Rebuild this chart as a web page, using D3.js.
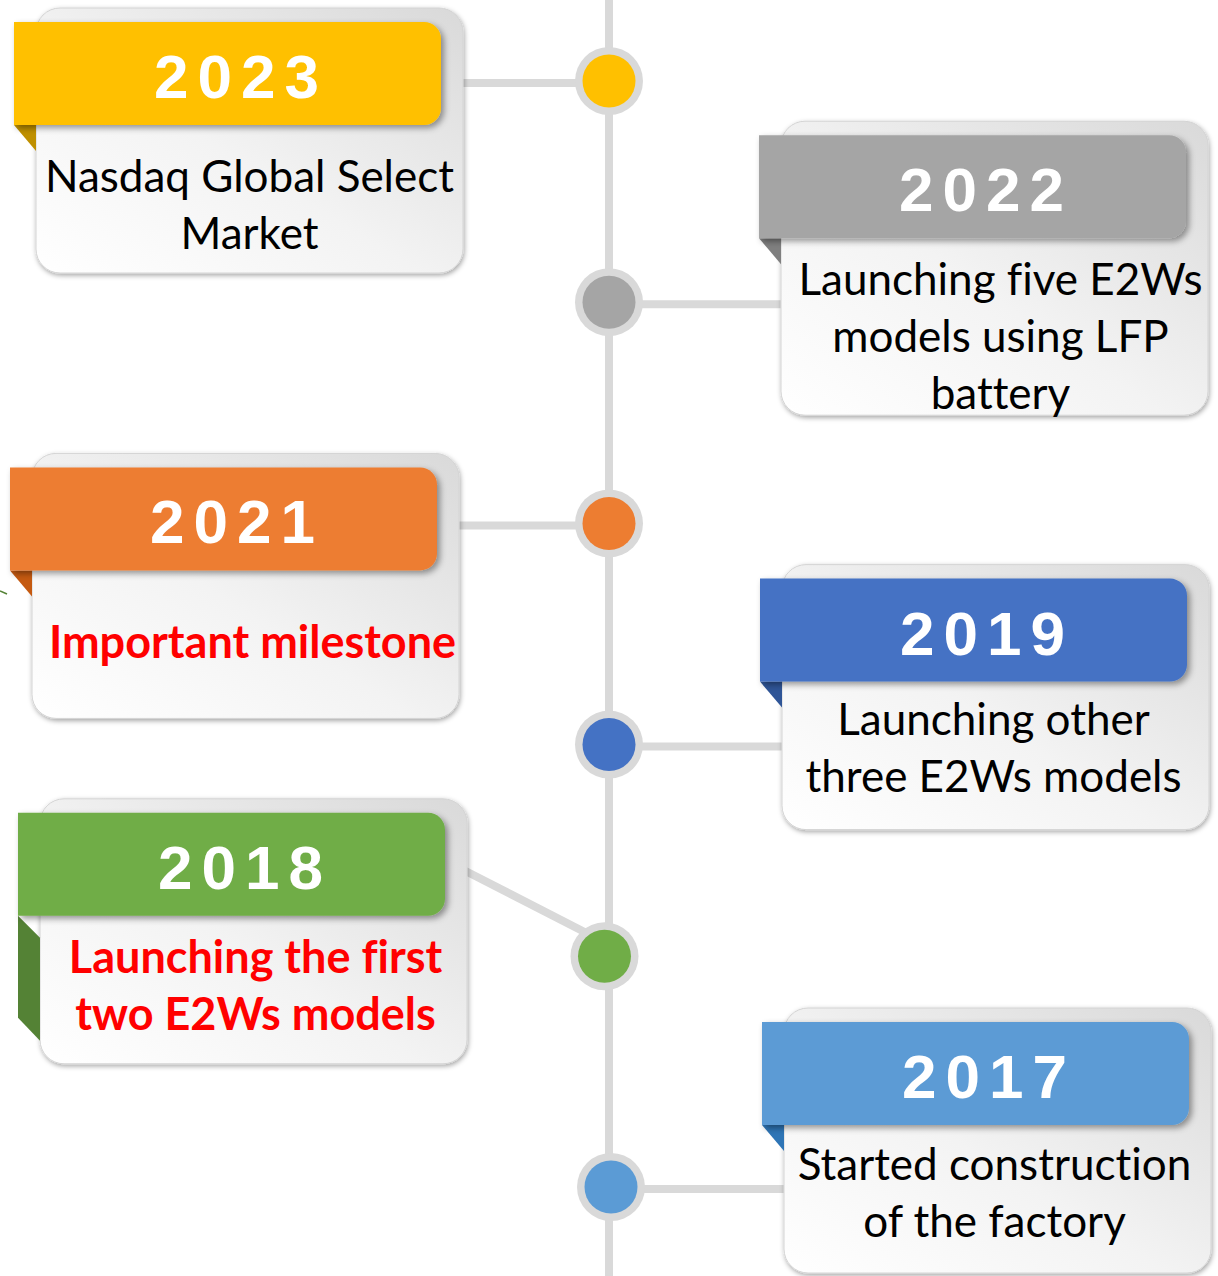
<!DOCTYPE html>
<html>
<head>
<meta charset="utf-8">
<script src="https://cdn.jsdelivr.net/npm/d3@7"></script>
<style>
  html, body { margin: 0; padding: 0; background: #ffffff; }
  svg { display: block; }
  text { font-variant-ligatures: none; }
</style>
</head>
<body>
<div id="chart"></div>
<script>
// ---------------- data ----------------
const years = ["2023", "2022", "2021", "2019", "2018", "2017"];
const sides = ["left", "right", "left", "right", "left", "right"];
const bannerColors = ["#FFC000", "#A5A5A5", "#ED7D31", "#4472C4", "#70AD47", "#5B9BD5"];
const foldColors = ["#BF9000", "#7F7F7F", "#C55A11", "#2F5597", "#548235", "#2E75B6"];
const descriptions = [
  ["Nasdaq Global Select", "Market"],
  ["Launching five E2Ws", "models using LFP", "battery"],
  ["Important milestone"],
  ["Launching other", "three E2Ws models"],
  ["Launching the first", "two E2Ws models"],
  ["Started construction", "of the factory"]
];
const highlighted = [false, false, true, false, true, false];

// ---------------- layout ----------------
const W = 1218, H = 1276;
const axisX = 609;
const dotNudgeX = [0, 0, 0, 0, -4.5, 2];
const dotNudgeY = [0, 0, 0, 0, -9.5, 0];
const cardTopOffset = [-73, -181, -70, -180, -157.5, -179];
const cardNudgeX = [0, -1, -4, 0, 4, 2];
const textFirstBaseline = [184, 174, 205, 170, 174, 172];
const textNudgeX = [0, 6, 7, -2, 2, -3];

const yScale = d3.scalePoint().domain(years).range([81, 1187]);

const items = years.map((yr, i) => {
  const cx = axisX + dotNudgeX[i];
  const cy = yScale(yr) + dotNudgeY[i];
  const cardW = 427;
  const lines = descriptions[i].length;
  const cardH = 265 + Math.max(0, lines - 2) * 29;
  const cardX = (sides[i] === "left" ? 36 : 782) + cardNudgeX[i];
  const cardY = cy + cardTopOffset[i];
  return {
    yr, i, cx, cy, cardX, cardY, cardW, cardH,
    bx: cardX - 22, by: cardY + 14, bw: 427, bh: 103,
    side: sides[i]
  };
});

const svg = d3.select("#chart").append("svg")
  .attr("width", W).attr("height", H).attr("viewBox", `0 0 ${W} ${H}`);

const defs = svg.append("defs");
const grad = defs.append("linearGradient").attr("id", "cardGrad")
  .attr("x1", "0%").attr("y1", "100%").attr("x2", "100%").attr("y2", "0%");
grad.append("stop").attr("offset", "0%").attr("stop-color", "#ffffff");
grad.append("stop").attr("offset", "45%").attr("stop-color", "#f3f3f3");
grad.append("stop").attr("offset", "100%").attr("stop-color", "#d9d9d9");

const cardShadow = defs.append("filter").attr("id", "cardShadow")
  .attr("x", "-10%").attr("y", "-10%").attr("width", "120%").attr("height", "120%");
cardShadow.append("feDropShadow").attr("dx", 1).attr("dy", 2)
  .attr("stdDeviation", 2.5).attr("flood-color", "#000").attr("flood-opacity", 0.35);

const bannerShadow = defs.append("filter").attr("id", "bannerShadow")
  .attr("x", "-10%").attr("y", "-10%").attr("width", "120%").attr("height", "130%");
bannerShadow.append("feDropShadow").attr("dx", 3).attr("dy", 3)
  .attr("stdDeviation", 3).attr("flood-color", "#000").attr("flood-opacity", 0.4);

const lineColor = "#D9D9D9";

// vertical timeline
svg.append("line")
  .attr("x1", axisX).attr("x2", axisX).attr("y1", 0).attr("y2", H)
  .attr("stroke", lineColor).attr("stroke-width", 8);

// connectors
svg.append("g").selectAll("line").data(items).join("line")
  .attr("x1", d => d.cx)
  .attr("y1", d => d.i === 4 ? d.cy - 14 : d.cy + 2)
  .attr("x2", d => d.side === "left" ? d.cardX + d.cardW - 2 : d.cardX + 2)
  .attr("y2", d => d.i === 4 ? d.cardY + 72 : d.cy + 2)
  .attr("stroke", lineColor).attr("stroke-width", 8);

// dots
const dots = svg.append("g").selectAll("g").data(items).join("g");
dots.append("circle").attr("cx", d => d.cx).attr("cy", d => d.cy).attr("r", 34).attr("fill", lineColor);
dots.append("circle").attr("cx", d => d.cx).attr("cy", d => d.cy).attr("r", 26.5).attr("fill", d => bannerColors[d.i]);

// tiny green stroke at left edge
svg.append("line").attr("x1", 0).attr("y1", 591).attr("x2", 7).attr("y2", 594)
  .attr("stroke", "#548235").attr("stroke-width", 1.5);

// cards
const cards = svg.append("g").selectAll("g").data(items).join("g");

cards.append("rect")
  .attr("x", d => d.cardX).attr("y", d => d.cardY)
  .attr("width", d => d.cardW).attr("height", d => d.cardH)
  .attr("rx", 24).attr("ry", 24)
  .attr("fill", "url(#cardGrad)")
  .attr("stroke", "#d4d4d4").attr("stroke-width", 1)
  .attr("filter", "url(#cardShadow)");

// folds
cards.append("path")
  .attr("d", d => {
    const yb = d.by + d.bh;
    if (d.i === 4) {
      return `M${d.bx},${yb} L${d.cardX},${yb + 22} L${d.cardX},${yb + 125} L${d.bx},${yb + 102} Z`;
    }
    return `M${d.bx},${yb} L${d.cardX},${yb} L${d.cardX},${yb + 26} Z`;
  })
  .attr("fill", d => foldColors[d.i]);

// banners
cards.append("path")
  .attr("d", d => {
    const r = 17, x = d.bx, y = d.by, w = d.bw, h = d.bh;
    return `M${x},${y} H${x + w - r} A${r},${r} 0 0 1 ${x + w},${y + r} V${y + h - r} A${r},${r} 0 0 1 ${x + w - r},${y + h} H${x} Z`;
  })
  .attr("fill", d => bannerColors[d.i])
  .attr("filter", "url(#bannerShadow)");

// year labels
const yearLS = 9;
cards.append("text")
  .attr("x", d => d.bx + d.bw / 2 + 9 + yearLS / 2)
  .attr("y", d => d.by + 76)
  .attr("text-anchor", "middle")
  .attr("font-family", "'Liberation Sans', Arial, sans-serif")
  .attr("font-weight", "bold")
  .attr("font-size", 62)
  .attr("letter-spacing", yearLS)
  .attr("fill", "#ffffff")
  .text(d => d.yr);

// descriptions
cards.each(function(d) {
  const g = d3.select(this);
  const hl = highlighted[d.i];
  descriptions[d.i].forEach((line, k) => {
    g.append("text")
      .attr("x", d.cardX + d.cardW / 2 + textNudgeX[d.i])
      .attr("y", d.cardY + textFirstBaseline[d.i] + k * 57)
      .attr("text-anchor", "middle")
      .attr("font-family", "Lato, 'Open Sans', sans-serif")
      .attr("font-weight", hl ? "bold" : "normal")
      .attr("font-size", hl ? 45 : 44)
      .attr("fill", hl ? "#FF0000" : "#000000")
      .text(line);
  });
});
</script>
</body>
</html>
